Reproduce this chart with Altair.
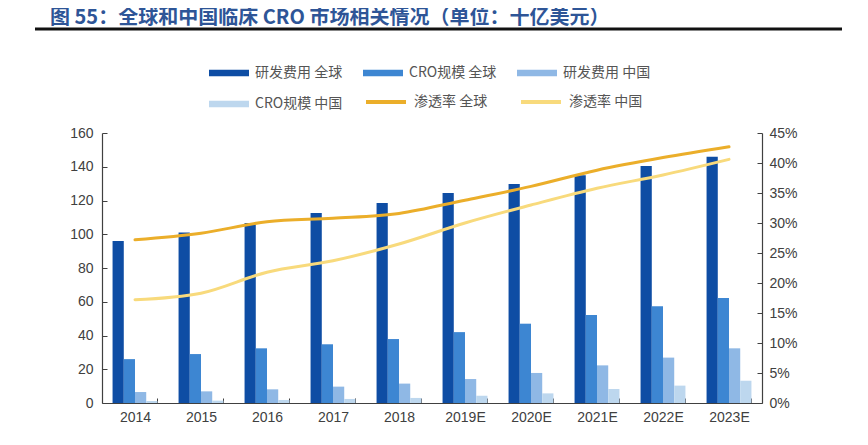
import altair as alt
import pandas as pd

years = ["2014", "2015", "2016", "2017", "2018", "2019E", "2020E", "2021E", "2022E", "2023E"]
rd_global = [96, 101, 106.7, 112.6, 118.5, 124.4, 129.8, 135, 140.4, 146]
cro_global = [26, 29, 32.4, 34.8, 37.9, 42, 47, 52.1, 57.3, 62.2]
rd_china = [6.5, 6.9, 8.1, 9.7, 11.5, 14.2, 17.8, 22.3, 26.9, 32.4]
cro_china = [1.2, 1.4, 1.8, 2.4, 3.0, 4.3, 5.7, 8.3, 10.3, 13.2]
pen_global = [0.272, 0.283, 0.302, 0.308, 0.316, 0.338, 0.361, 0.388, 0.409, 0.427]
pen_china = [0.172, 0.183, 0.218, 0.237, 0.265, 0.300, 0.330, 0.358, 0.380, 0.406]

bar_names = ["研发费用 全球", "CRO规模 全球", "研发费用 中国", "CRO规模 中国"]
bar_colors = ["#0E4DA4", "#3D86D2", "#8FB8E5", "#BDD7EE"]
line_names = ["渗透率 全球", "渗透率 中国"]
line_colors = ["#EBAE2A", "#F8DA7C"]

rows = []
for i, y in enumerate(years):
    for k, (name, vals) in enumerate(zip(bar_names, [rd_global, cro_global, rd_china, cro_china])):
        rows.append({"year": y, "series": name, "order": k, "value": vals[i]})
bars_df = pd.DataFrame(rows)

lrows = []
for i, y in enumerate(years):
    for name, vals in zip(line_names, [pen_global, pen_china]):
        lrows.append({"year": y, "line": name, "rate": vals[i]})
lines_df = pd.DataFrame(lrows)

FONT = "Liberation Sans"
CJK = "Noto Sans CJK SC"
LABEL_COLOR = "#404040"
AXIS_COLOR = "#404040"

x_enc = alt.X("year:N", sort=years, title=None,
              scale=alt.Scale(paddingInner=0.32, paddingOuter=0.16),
              axis=alt.Axis(labelAngle=0, labelFont=FONT, labelFontSize=14, labelColor=LABEL_COLOR,
                            domainColor=AXIS_COLOR, tickColor=AXIS_COLOR, tickBand="extent",
                            tickSize={"expr": "-5"}, labelPadding=12, domainWidth=1.2))

bar_path = "M-1,-0.16H1V0.16H-1Z"

bars = alt.Chart(bars_df).mark_bar().encode(
    x=x_enc,
    xOffset=alt.XOffset("series:N", sort=bar_names, scale=alt.Scale(paddingInner=0, paddingOuter=0)),
    y=alt.Y("value:Q", title=None,
            scale=alt.Scale(domain=[0, 160], nice=False),
            axis=alt.Axis(values=list(range(0, 161, 20)), labelFont=FONT, labelFontSize=14,
                          labelColor=LABEL_COLOR, domainColor=AXIS_COLOR, tickColor=AXIS_COLOR,
                          tickSize={"expr": "-5"}, labelPadding=14, grid=False, domainWidth=1.2)),
    color=alt.Color("series:N", sort=bar_names,
                    scale=alt.Scale(domain=bar_names, range=bar_colors),
                    legend=alt.Legend(title=None, orient="none", legendX=107, legendY=-80,
                                      direction="horizontal", columns=3, columnPadding=20, rowPadding=4,
                                      symbolType=bar_path, symbolSize=1600, symbolStrokeWidth=0,
                                      labelFont=CJK, labelFontSize=14, labelColor="#555555",
                                      labelOffset=6, padding=0)),
)

lines = alt.Chart(lines_df).mark_line(strokeWidth=3, interpolate="monotone", strokeCap="round").encode(
    x=alt.X("year:N", sort=years),
    y=alt.Y("rate:Q", title=None,
            scale=alt.Scale(domain=[0, 0.45], nice=False),
            axis=alt.Axis(orient="right", values=[i * 0.05 for i in range(10)], format=".0%",
                          labelFont=FONT, labelFontSize=14, labelColor=LABEL_COLOR,
                          domainColor=AXIS_COLOR, tickColor=AXIS_COLOR, tickSize={"expr": "-5"},
                          labelPadding=12, grid=False, domainWidth=1.2)),
    stroke=alt.Stroke("line:N", sort=line_names,
                      scale=alt.Scale(domain=line_names, range=line_colors),
                      legend=alt.Legend(title=None, orient="none", legendX=262, legendY=-53,
                                        direction="horizontal", columns=2, columnPadding=25,
                                        symbolType="stroke", symbolSize=1600, symbolStrokeWidth=4,
                                        labelFont=CJK, labelFontSize=14, labelColor="#555555",
                                        labelOffset=6, padding=0)),
)

rule = alt.Chart(pd.DataFrame({"a": [0]})).mark_rule(color="#111111", strokeWidth=3).encode(
    x=alt.value(-67), x2=alt.value(740), y=alt.value(-104)
)

chart = alt.layer(bars, lines, rule).resolve_scale(y="independent", color="independent").properties(
    width=660, height=270,
    title=alt.TitleParams("图 55：全球和中国临床 CRO 市场相关情况（单位：十亿美元）",
                          anchor="start", frame="group", font=CJK, fontSize=20, fontWeight="bold",
                          color="#2E5597", dx=-52, offset=0),
    autosize=alt.AutoSizeParams(type="none"),
    padding={"left": 94, "top": 125, "right": 98, "bottom": 34},
).configure_view(stroke=None)

chart.save("out.html", embed_options={"renderer": "svg", "actions": False})
